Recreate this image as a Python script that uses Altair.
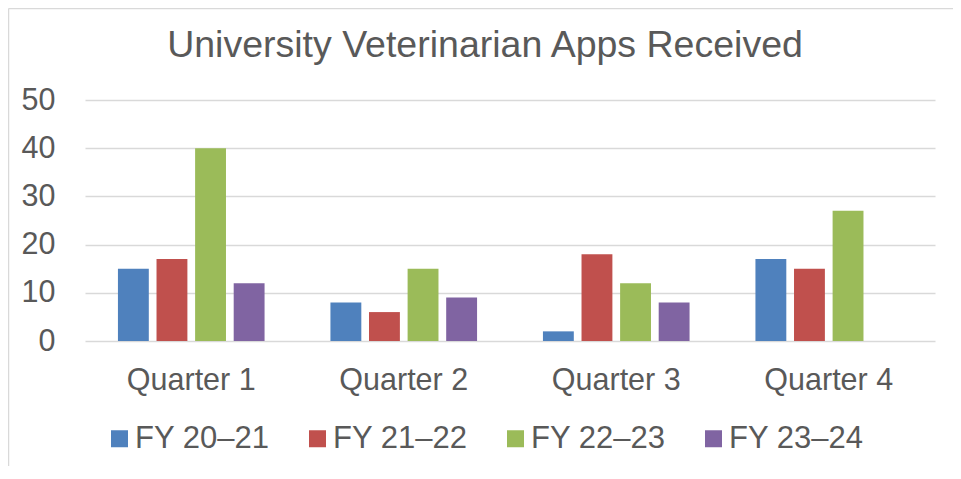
import altair as alt
import pandas as pd

quarters = ["Quarter 1", "Quarter 2", "Quarter 3", "Quarter 4"]
series = ["FY 20–21", "FY 21–22", "FY 22–23", "FY 23–24"]
fy2021 = [15, 8, 2, 17]
fy2122 = [17, 6, 18, 15]
fy2223 = [40, 15, 12, 27]
fy2324 = [12, 9, 8, None]
colors = ["#4F81BD", "#C0504D", "#9BBB59", "#8064A2"]

rows = []
for s, vals in zip(series, [fy2021, fy2122, fy2223, fy2324]):
    for q, v in zip(quarters, vals):
        if v is not None:
            rows.append({"quarter": q, "series": s, "value": v})
df = pd.DataFrame(rows)

FONT = "Liberation Sans"
GRAY = "#595959"

bars = alt.Chart(df).mark_bar().encode(
    x=alt.X("quarter:N", sort=quarters,
            scale=alt.Scale(domain=quarters, paddingInner=0.31, paddingOuter=0.155),
            axis=alt.Axis(title=None, labelAngle=0, labelFontSize=30.5, labelColor=GRAY,
                          labelFont=FONT, labelPadding=24, ticks=False, domain=False,
                          grid=False)),
    xOffset=alt.XOffset("series:N", sort=series,
                        scale=alt.Scale(domain=series, paddingInner=0.2, paddingOuter=0)),
    y=alt.Y("value:Q", scale=alt.Scale(domain=[0, 50], nice=False),
            axis=alt.Axis(title=None, values=[0, 10, 20, 30, 40, 50], labelFontSize=30.5,
                          labelColor=GRAY, labelFont=FONT, labelPadding=30, ticks=False,
                          domain=False, gridColor="#d9d9d9", gridWidth=1.5)),
    color=alt.Color("series:N", sort=series,
                    scale=alt.Scale(domain=series, range=colors),
                    legend=alt.Legend(title=None, orient="none", direction="horizontal",
                                      legendX=19, legendY=323, symbolType="square",
                                      symbolSize=289, symbolStrokeWidth=0,
                                      labelFontSize=31, labelColor=GRAY, labelFont=FONT,
                                      labelOffset=0, columnPadding=32)),
)

border = alt.Chart(alt.Data(values=[{"a": 1}])).mark_rule(color="#d9d9d9", strokeWidth=1.5).encode(
    x=alt.value(-76.5), y=alt.value(-91.5), y2=alt.value(380)
)
border_top = alt.Chart(alt.Data(values=[{"a": 1}])).mark_rule(color="#d9d9d9", strokeWidth=1.5).encode(
    x=alt.value(-76.5), x2=alt.value(870), y=alt.value(-91.5)
)

chart = alt.layer(bars, border, border_top).properties(
    width=850, height=241,
    title=alt.TitleParams("University Veterinarian Apps Received", fontSize=37.5,
                          font=FONT, color=GRAY, fontWeight="normal", anchor="middle",
                          frame="group", dx=-25, baseline="alphabetic", offset=-87),
    autosize=alt.AutoSizeParams(type="none"),
    padding={"left": 77, "top": 92, "right": 18, "bottom": 125},
).configure_view(stroke=None)

chart.save("out.html", embed_options={"renderer": "svg", "actions": False})
